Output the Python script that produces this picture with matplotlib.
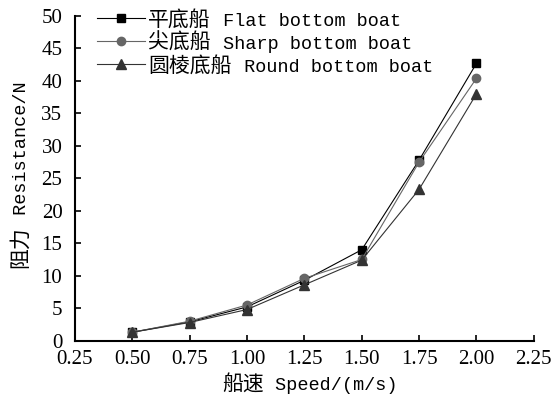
import matplotlib
matplotlib.use("Agg")
import matplotlib.pyplot as plt

plt.rcParams['font.family'] = ['Liberation Mono', 'Noto Sans CJK SC']
plt.rcParams['font.size'] = 13

speed = [0.5, 0.75, 1.0, 1.25, 1.5, 1.75, 2.0]
flat = [1.3, 2.9, 5.2, 9.3, 14.0, 27.8, 42.7]
sharp = [1.3, 3.0, 5.5, 9.6, 12.5, 27.5, 40.4]
round_ = [1.3, 2.8, 4.8, 8.6, 12.4, 23.3, 38.0]
labels_cn = ['平底船', '尖底船', '圆棱底船']
labels_en = ['Flat bottom boat', 'Sharp bottom boat', 'Round bottom boat']
xticks = [0.25, 0.50, 0.75, 1.00, 1.25, 1.50, 1.75, 2.00, 2.25]
xticklabels = ['0.25', '0.50', '0.75', '1.00', '1.25', '1.50', '1.75', '2.00', '2.25']
yticks = [0, 5, 10, 15, 20, 25, 30, 35, 40, 45, 50]
xlabel_cn, xlabel_en = '船速', 'Speed/(m/s)'
ylabel_cn, ylabel_en = '阻力', 'Resistance/N'

CJK = dict(family=['Noto Sans CJK SC'], fontsize=15)
LAT = dict(family=['Liberation Mono'], fontsize=13.3)

W, H = 559, 398
fig = plt.figure(figsize=(W / 100, H / 100), dpi=100)
ax = fig.add_axes([0.134, 0.144, 0.821, 0.816])

ax.plot(speed, flat, color='#000000', marker='s', markersize=5.5, lw=0.8, label=labels_cn[0])
ax.plot(speed, sharp, color='#666666', marker='o', markersize=6, lw=0.8, label=labels_cn[1])
ax.plot(speed, round_, color='#333333', marker='^', markersize=7, lw=0.8, label=labels_cn[2])

ax.set_xlim(0.25, 2.25)
ax.set_ylim(0, 50)
ax.set_xticks(xticks)
ax.set_xticklabels(xticklabels)
ax.set_yticks(yticks)
for lab in ax.get_xticklabels() + ax.get_yticklabels():
    lab.set_fontfamily(['Liberation Serif'])
    lab.set_fontsize(15)
for s in ['top', 'right']:
    ax.spines[s].set_visible(False)
for s in ['left', 'bottom']:
    ax.spines[s].set_linewidth(1.5)
ax.tick_params(direction='in', length=4, width=1.2)
ax.tick_params(axis='x', pad=7)
ax.tick_params(axis='y', pad=9)

leg = ax.legend(loc='upper left', bbox_to_anchor=(0.03, 1.048), frameon=False,
                handlelength=2.3, handletextpad=0.15, labelspacing=0.05, borderaxespad=0,
                prop={'family': 'Noto Sans CJK SC', 'size': 15})

fig.canvas.draw()
r = fig.canvas.get_renderer()

# Latin parts of legend labels, placed after the CJK parts on the same baseline
for t, en in zip(leg.get_texts(), labels_en):
    bb = t.get_window_extent(r)
    px, py = t.get_transform().transform(t.get_position())
    fig.text((bb.x1 + 1) / W, py / H, ' ' + en, ha='left', va='baseline', **LAT)


def two_part(cx, cy, cn, en, rotation=0):
    t1 = fig.text(0, 0, cn, rotation=rotation, rotation_mode='anchor', ha='left', va='baseline', **CJK)
    t2 = fig.text(0, 0, ' ' + en, rotation=rotation, rotation_mode='anchor', ha='left', va='baseline', **LAT)
    b1 = t1.get_window_extent(r)
    b2 = t2.get_window_extent(r)
    if rotation == 0:
        w1, w2 = b1.width, b2.width
        x0 = cx - (w1 + w2) / 2
        t1.set_position((x0 / W, cy / H))
        t2.set_position(((x0 + w1) / W, cy / H))
    else:
        w1, w2 = b1.height, b2.height
        y0 = cy - (w1 + w2) / 2
        t1.set_position((cx / W, y0 / H))
        t2.set_position((cx / W, (y0 + w1) / H))


# x label: centre near x=310, baseline ~ y=390 from top
two_part(310, H - 390, xlabel_cn, xlabel_en)
# y label: centre near y=175 from top, baseline at x~26
two_part(26, H - 175, ylabel_cn, ylabel_en, rotation=90)

fig.savefig('out.png', dpi=100)
